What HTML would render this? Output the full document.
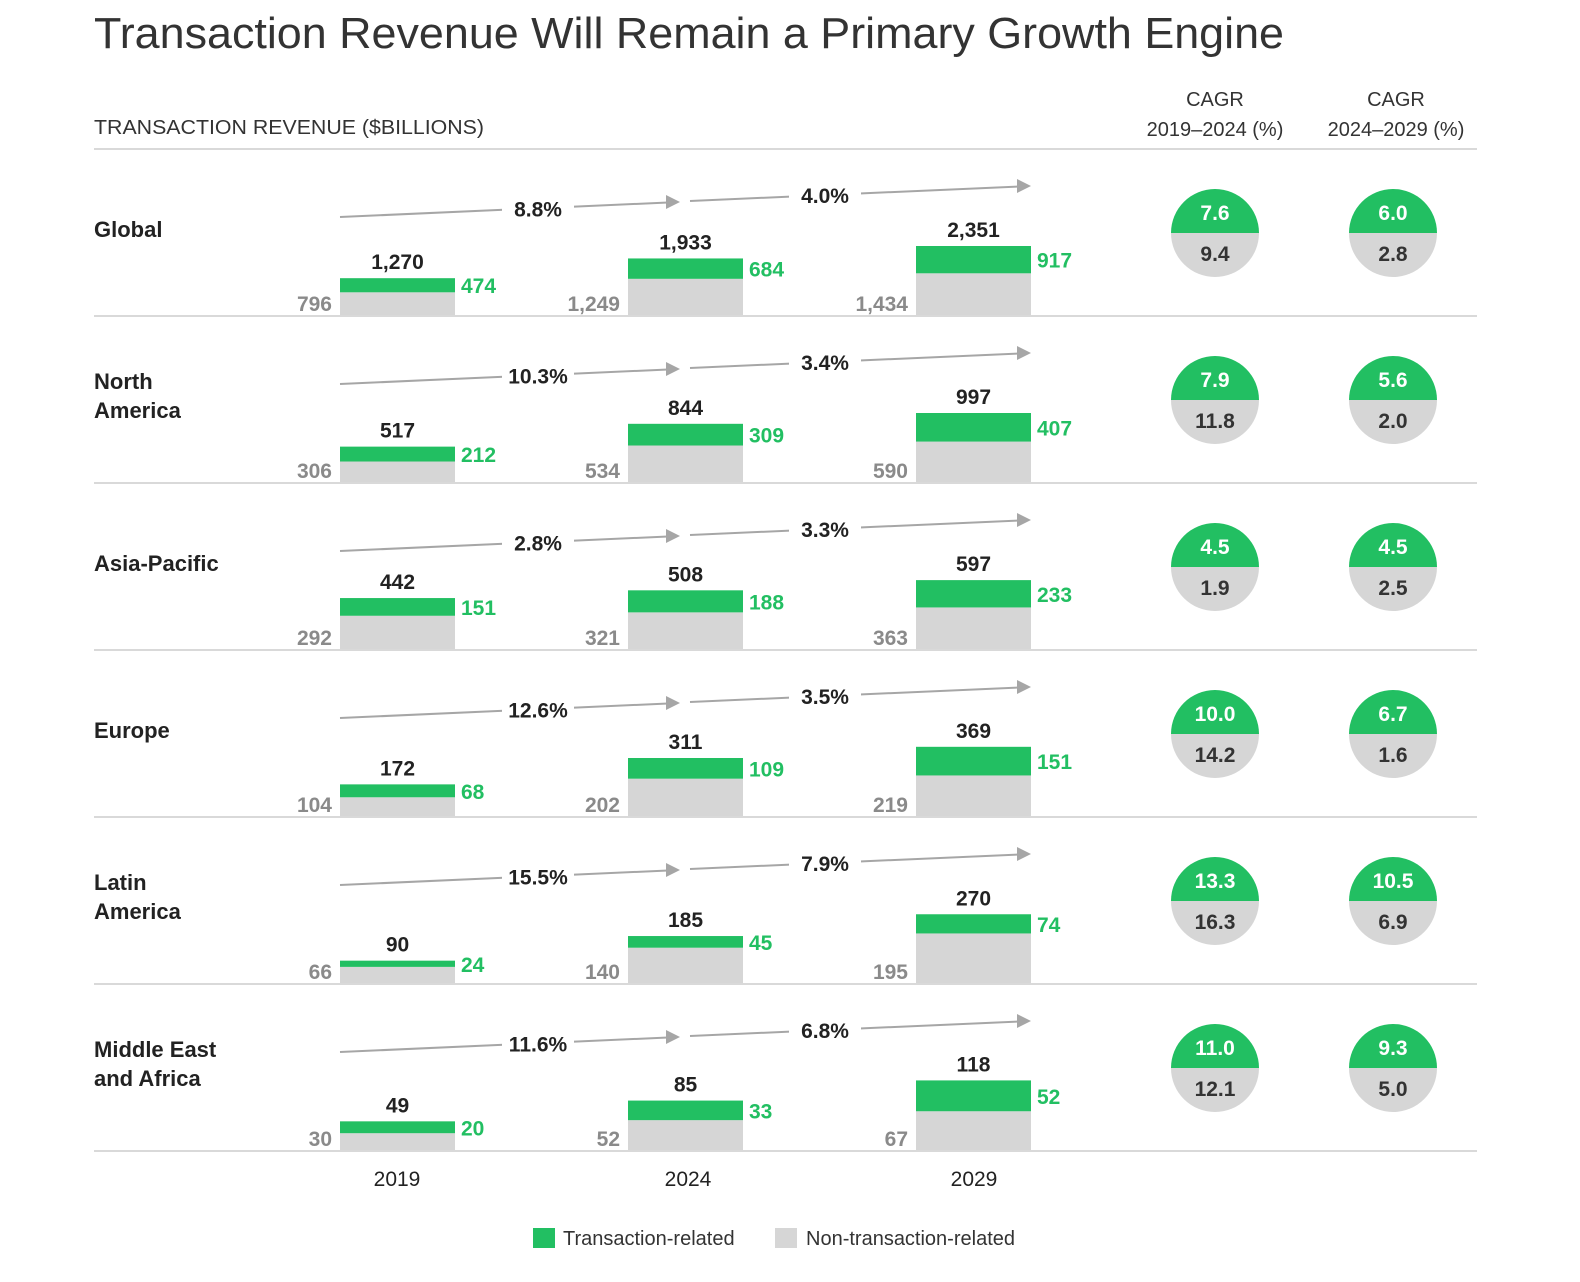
<!DOCTYPE html>
<html><head><meta charset="utf-8">
<style>
html,body{margin:0;padding:0;background:#fff;}
svg{display:block;font-family:"Liberation Sans",sans-serif;}
</style></head>
<body>
<svg id="chart" width="1580" height="1282" viewBox="0 0 1580 1282">
<text x="94" y="48" font-size="44" fill="#333" textLength="1190" lengthAdjust="spacingAndGlyphs">Transaction Revenue Will Remain a Primary Growth Engine</text>
<text x="94" y="134" font-size="20" fill="#333" textLength="390" lengthAdjust="spacingAndGlyphs">TRANSACTION REVENUE ($BILLIONS)</text>
<text x="1215" y="106" font-size="20" fill="#333" text-anchor="middle">CAGR</text>
<text x="1215" y="136" font-size="20" fill="#333" text-anchor="middle">2019–2024 (%)</text>
<text x="1396" y="106" font-size="20" fill="#333" text-anchor="middle">CAGR</text>
<text x="1396" y="136" font-size="20" fill="#333" text-anchor="middle">2024–2029 (%)</text>
<line x1="94" y1="149" x2="1477" y2="149" stroke="#d9d9d9" stroke-width="2"/>
<g id="rows"></g>
<text x="397" y="1186" font-size="21" fill="#222" text-anchor="middle">2019</text>
<text x="688" y="1186" font-size="21" fill="#222" text-anchor="middle">2024</text>
<text x="974" y="1186" font-size="21" fill="#222" text-anchor="middle">2029</text>
<rect x="533" y="1228" width="22" height="20" fill="#22bf62"/>
<text x="563" y="1245" font-size="20" fill="#333">Transaction-related</text>
<rect x="775" y="1228" width="22" height="20" fill="#d6d6d6"/>
<text x="806" y="1245" font-size="20" fill="#333">Non-transaction-related</text>
</svg>
<script>
const regions = [["Global"],["North","America"],["Asia-Pacific"],["Europe"],["Latin","America"],["Middle East","and Africa"]];
const years = ["2019","2024","2029"];
const totals = [[1270,1933,2351],[517,844,997],[442,508,597],[172,311,369],[90,185,270],[49,85,118]];
const transaction = [[474,684,917],[212,309,407],[151,188,233],[68,109,151],[24,45,74],[20,33,52]];
const nonTransaction = [[796,1249,1434],[306,534,590],[292,321,363],[104,202,219],[66,140,195],[30,52,67]];
const growth1 = ["8.8%","10.3%","2.8%","12.6%","15.5%","11.6%"];
const growth2 = ["4.0%","3.4%","3.3%","3.5%","7.9%","6.8%"];
const cagr1Trans = ["7.6","7.9","4.5","10.0","13.3","11.0"];
const cagr1Non = ["9.4","11.8","1.9","14.2","16.3","12.1"];
const cagr2Trans = ["6.0","5.6","4.5","6.7","10.5","9.3"];
const cagr2Non = ["2.8","2.0","2.5","1.6","6.9","5.0"];

const NS="http://www.w3.org/2000/svg";
const g=document.getElementById('rows');
function mk(tag,attrs,parent,text){const e=document.createElementNS(NS,tag);for(const k in attrs)e.setAttribute(k,attrs[k]);if(text!==undefined)e.textContent=text;(parent||g).appendChild(e);return e;}
const rowTop=i=>149+i*167;
const barX=[340,628,916], barW=115, maxH=70;
const GREEN="#22bf62", GREY="#d6d6d6";
const fmt=v=>v.toLocaleString('en-US');

regions.forEach((reg,i)=>{
  const top=rowTop(i), base=top+167;
  const rg=mk('g',{});
  
  
  const rowMax=Math.max(...totals[i]);
  const y=v=>v/rowMax*maxH;
  // region label
  const ly = reg.length===1 ? top+88 : top+73;
  reg.forEach((line,k)=>{
    const t=mk('text',{x:94,y:ly+k*29,'font-size':22,'font-weight':'bold',fill:'#222'},rg,line);
    
    
  });
  // bars
  years.forEach((yr,j)=>{
    const x=barX[j], cx=x+barW/2;
    const hN=y(nonTransaction[i][j]), hT=y(transaction[i][j]);
    const r1=mk('rect',{x:x,y:base-hN,width:barW,height:hN,fill:GREY},rg);
    
    
    const r2=mk('rect',{x:x,y:base-hN-hT,width:barW,height:hT,fill:GREEN},rg);
    
    
    const t1=mk('text',{x:cx,y:base-hN-hT-9,'font-size':21,'font-weight':'bold',fill:'#222','text-anchor':'middle'},rg,fmt(totals[i][j]));
    
    
    const t2=mk('text',{x:x+barW+6,y:base-hN-hT/2+8,'font-size':21,'font-weight':'bold',fill:GREEN},rg,fmt(transaction[i][j]));
    
    
    const t3=mk('text',{x:x-8,y:base-5,'font-size':21,'font-weight':'bold',fill:'#8a8a8a','text-anchor':'end'},rg,fmt(nonTransaction[i][j]));
    
    
  });
  // arrows
  [[340,top+68,680,top+53,538,growth1[i]],[690,top+52,1031,top+37,825,growth2[i]]].forEach((a,k)=>{
    const [x1,y1,x2,y2,lx,lab]=a;
    const ln=mk('line',{x1:x1,y1:y1,x2:x2-12,y2:y2+0.5,stroke:'#a6a6a6','stroke-width':2},rg);
    
    
    const hd=mk('polygon',{points:`${x2},${y2} ${x2-14},${y2-7} ${x2-14},${y2+7}`,fill:'#a6a6a6'},rg);
    
    
    const ly2=y1+(y2-y1)*(lx-x1)/(x2-x1);
    const bg=mk('rect',{x:lx-36,y:ly2-14,width:72,height:28,fill:'#fff'},rg);
    
    
    const tl=mk('text',{x:lx,y:ly2+8,'font-size':21,'font-weight':'bold',fill:'#222','text-anchor':'middle'},rg,lab);
    
    
  });
  // circles
  [[1215,cagr1Trans[i],cagr1Non[i]],[1393,cagr2Trans[i],cagr2Non[i]]].forEach((c,k)=>{
    const [cx,tv,nv]=c, cy=top+84, r=44;
    const bot=mk('path',{d:`M${cx-r},${cy} A${r},${r} 0 0 0 ${cx+r},${cy} Z`,fill:GREY},rg);
    
    
    const tp=mk('path',{d:`M${cx-r},${cy} A${r},${r} 0 0 1 ${cx+r},${cy} Z`,fill:GREEN},rg);
    
    
    const a=mk('text',{x:cx,y:cy-13,'font-size':21,'font-weight':'bold',fill:'#fff','text-anchor':'middle'},rg,tv);
    
    
    const b=mk('text',{x:cx,y:cy+28,'font-size':21,'font-weight':'bold',fill:'#333','text-anchor':'middle'},rg,nv);
    
    
  });
  const rule=mk('line',{x1:94,y1:base,x2:1477,y2:base,stroke:'#d9d9d9','stroke-width':2},rg);
  
  
});
</script>
</body></html>
